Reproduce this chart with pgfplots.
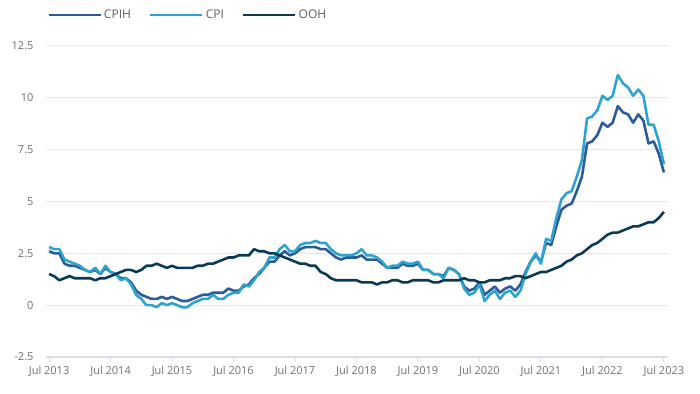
\documentclass[border=0pt]{standalone}
\usepackage{fontspec}
\setmainfont{Open Sans}
\usepackage{pgfplots}
\usepackage{pgfplotstable}
\pgfplotsset{compat=1.18}
\definecolor{cpih}{HTML}{2B5C97}
\definecolor{cpi}{HTML}{2FA3D0}
\definecolor{ooh}{HTML}{0A3A56}
\definecolor{gridgrey}{HTML}{E6E6E6}
\definecolor{axisblue}{HTML}{D9DEEB}
\definecolor{labelgrey}{HTML}{707070}
\definecolor{legendgrey}{HTML}{606060}
\pgfplotstableread{
i cpih cpi ooh
0 2.6 2.8 1.5
1 2.5 2.7 1.4
2 2.5 2.7 1.2
3 2.0 2.2 1.3
4 1.9 2.1 1.4
5 1.9 2.0 1.3
6 1.8 1.9 1.3
7 1.7 1.7 1.3
8 1.6 1.6 1.3
9 1.7 1.8 1.2
10 1.5 1.5 1.3
11 1.8 1.9 1.3
12 1.6 1.6 1.4
13 1.5 1.5 1.5
14 1.3 1.2 1.6
15 1.3 1.3 1.7
16 1.1 1.0 1.7
17 0.7 0.5 1.6
18 0.5 0.3 1.7
19 0.4 0.0 1.9
20 0.3 0.0 1.9
21 0.3 -0.1 2.0
22 0.4 0.1 1.9
23 0.3 0.0 1.8
24 0.4 0.1 1.9
25 0.3 0.0 1.8
26 0.2 -0.1 1.8
27 0.2 -0.1 1.8
28 0.3 0.1 1.8
29 0.4 0.2 1.9
30 0.5 0.3 1.9
31 0.5 0.3 2.0
32 0.6 0.5 2.0
33 0.6 0.3 2.1
34 0.6 0.3 2.2
35 0.8 0.5 2.3
36 0.7 0.6 2.3
37 0.7 0.6 2.4
38 0.9 1.0 2.4
39 1.0 0.9 2.4
40 1.3 1.2 2.7
41 1.5 1.6 2.6
42 1.8 1.8 2.6
43 2.1 2.3 2.5
44 2.1 2.3 2.5
45 2.4 2.7 2.4
46 2.6 2.9 2.3
47 2.4 2.6 2.2
48 2.5 2.6 2.1
49 2.7 2.9 2.0
50 2.8 3.0 2.0
51 2.8 3.0 1.9
52 2.8 3.1 1.9
53 2.7 3.0 1.6
54 2.7 3.0 1.5
55 2.5 2.7 1.3
56 2.3 2.5 1.2
57 2.2 2.4 1.2
58 2.3 2.4 1.2
59 2.3 2.4 1.2
60 2.3 2.5 1.2
61 2.4 2.7 1.1
62 2.2 2.4 1.1
63 2.2 2.4 1.1
64 2.2 2.3 1.0
65 2.0 2.1 1.1
66 1.8 1.8 1.1
67 1.8 1.9 1.2
68 1.8 1.9 1.2
69 2.0 2.1 1.1
70 1.9 2.0 1.1
71 1.9 2.0 1.2
72 2.0 2.1 1.2
73 1.7 1.7 1.2
74 1.7 1.7 1.2
75 1.5 1.5 1.1
76 1.5 1.5 1.1
77 1.4 1.3 1.2
78 1.8 1.8 1.2
79 1.7 1.7 1.2
80 1.5 1.5 1.2
81 0.9 0.8 1.3
82 0.7 0.5 1.2
83 0.8 0.6 1.2
84 1.1 1.0 1.1
85 0.5 0.2 1.1
86 0.7 0.5 1.2
87 0.9 0.7 1.2
88 0.6 0.3 1.2
89 0.8 0.6 1.3
90 0.9 0.7 1.3
91 0.7 0.4 1.4
92 1.0 0.7 1.4
93 1.6 1.5 1.3
94 2.1 2.1 1.4
95 2.4 2.5 1.5
96 2.1 2.0 1.6
97 3.0 3.2 1.6
98 2.9 3.1 1.7
99 3.8 4.2 1.8
100 4.6 5.1 1.9
101 4.8 5.4 2.1
102 4.9 5.5 2.2
103 5.5 6.2 2.4
104 6.2 7.0 2.5
105 7.8 9.0 2.7
106 7.9 9.1 2.9
107 8.2 9.4 3.0
108 8.8 10.1 3.2
109 8.6 9.9 3.4
110 8.8 10.1 3.5
111 9.6 11.1 3.5
112 9.3 10.7 3.6
113 9.2 10.5 3.7
114 8.8 10.1 3.8
115 9.2 10.4 3.8
116 8.9 10.1 3.9
117 7.8 8.7 4.0
118 7.9 8.7 4.0
119 7.3 7.9 4.2
120 6.4 6.8 4.5
}\datatable
\begin{document}
\begin{tikzpicture}
\path[use as bounding box] (0pt,0pt) rectangle (700pt,393pt);
\begin{axis}[
  scale only axis, width=622pt, height=311pt,
  at={(46pt,36pt)}, anchor=south west,
  xmin=-0.6, xmax=120.8, ymin=-2.5, ymax=12.5,
  xtick={0,12,24,36,48,60,72,84,96,108,120},
  xticklabels={Jul 2013,Jul 2014,Jul 2015,Jul 2016,Jul 2017,Jul 2018,Jul 2019,Jul 2020,Jul 2021,Jul 2022,Jul 2023},
  ytick={-2.5,0,2.5,5,7.5,10,12.5},
  yticklabels={-2.5,0,2.5,5,7.5,10,12.5},
  axis x line*=bottom, axis y line*=left,
  y axis line style={draw=none},
  x axis line style={color=axisblue, line width=1.5pt, -},
  ymajorgrids, grid style={color=gridgrey, line width=1pt},
  ytick style={draw=none},
  xtick style={color=axisblue, line width=1pt},
  xtick align=outside, major tick length=5pt,
  tick label style={font=\fontsize{11}{13}\selectfont, text=labelgrey},
  yticklabel style={xshift=-9pt},
  xticklabel style={yshift=-1pt},
  legend columns=-1,
  legend style={at={(0.0016,1.0997)}, anchor=west, draw=none, fill=none, inner sep=0pt,
    font=\fontsize{12}{14}\selectfont, text=legendgrey,
    /tikz/every even column/.append style={column sep=16pt}},
  legend image code/.code={\draw[#1, line width=2.8pt] (0pt,0pt) -- (52pt,0pt);},
  every axis plot/.append style={line width=2.6pt, line join=round},
]
\addplot[cpih, no marks] table[x=i, y=cpih] {\datatable};
\addlegendentry{CPIH}
\addplot[cpi, no marks] table[x=i, y=cpi] {\datatable};
\addlegendentry{CPI}
\addplot[ooh, no marks] table[x=i, y=ooh] {\datatable};
\addlegendentry{OOH}
\node[anchor=south west, inner sep=1pt, font=\fontsize{11}{13}\selectfont, text=labelgrey] at (rel axis cs:0,1) {\%};
\end{axis}
\end{tikzpicture}
\end{document}
